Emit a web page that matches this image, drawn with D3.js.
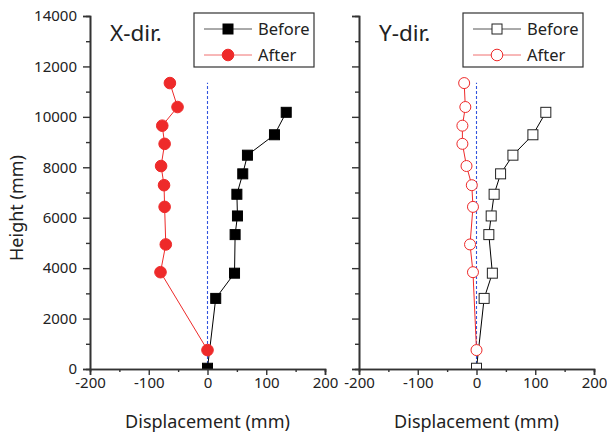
<!DOCTYPE html>
<html>
<head>
<meta charset="utf-8">
<script src="https://cdn.jsdelivr.net/npm/d3@7"></script>
<style>
  body { margin: 0; background: #fff; }
  text { font-family: "Noto Sans", "Open Sans", sans-serif; fill: #222; }
</style>
</head>
<body>
<div id="chart"></div>
<script>
// heights of the measured points (mm)
var heightBefore = [30, 2800, 3800, 5330, 6070, 6930, 7740, 8480, 9290, 10180];
var heightAfter  = [750, 3840, 4940, 6430, 7290, 8050, 8930, 9650, 10390, 11340];

// X-direction displacement (mm)
var xBefore = [0, 14, 46, 47, 51, 50, 60, 68, 114, 134];
var xAfter  = [0, -80, -71, -73, -74, -79, -73, -77, -51, -64];

// Y-direction displacement (mm)
var yBefore = [0, 13, 27, 21, 25, 30, 41, 62, 96, 118];
var yAfter  = [0, -6, -11, -6, -8, -17, -24, -24, -19, -21];

var xTicks = [-200, -100, 0, 100, 200];
var yTicks = [0, 2000, 4000, 6000, 8000, 10000, 12000, 14000];
var refLineTop = 11350;

var W = 607, H = 436;
var svg = d3.select("#chart").append("svg")
    .attr("width", W).attr("height", H);

var plotTop = 16, plotBottom = 369;
var yScale = d3.scaleLinear().domain([0, 14000]).range([plotBottom, plotTop]);
var fmt = function(d) { return String(d); };

function panel(left, right, title, before, after, hollow, showYLabels, id) {
    var xScale = d3.scaleLinear().domain([-200, 200]).range([left, right]);

    svg.append("clipPath").attr("id", "clip" + id)
      .append("rect")
        .attr("x", left).attr("y", plotTop)
        .attr("width", right - left).attr("height", plotBottom - plotTop);

    var g = svg.append("g").attr("clip-path", "url(#clip" + id + ")");

    // zero reference line
    g.append("line")
        .attr("x1", xScale(0)).attr("x2", xScale(0))
        .attr("y1", yScale(0)).attr("y2", yScale(refLineTop))
        .attr("stroke", "#3355dd").attr("stroke-width", 1.1)
        .attr("stroke-dasharray", "3,2");

    var lineBefore = d3.line()
        .x(function(d) { return xScale(d); })
        .y(function(d, i) { return yScale(heightBefore[i]); });
    var lineAfter = d3.line()
        .x(function(d) { return xScale(d); })
        .y(function(d, i) { return yScale(heightAfter[i]); });

    g.append("path").datum(before).attr("d", lineBefore)
        .attr("fill", "none").attr("stroke", "#000").attr("stroke-width", 1);
    g.append("path").datum(after).attr("d", lineAfter)
        .attr("fill", "none").attr("stroke", "#ee2a2a").attr("stroke-width", 1);

    var sq = 10;
    g.selectAll(".sq").data(before).enter().append("rect")
        .attr("x", function(d) { return xScale(d) - sq / 2; })
        .attr("y", function(d, i) { return yScale(heightBefore[i]) - sq / 2; })
        .attr("width", sq).attr("height", sq)
        .attr("fill", hollow ? "#fff" : "#000")
        .attr("stroke", hollow ? "#222" : "#000").attr("stroke-width", 1);

    g.selectAll(".ci").data(after).enter().append("circle")
        .attr("cx", function(d) { return xScale(d); })
        .attr("cy", function(d, i) { return yScale(heightAfter[i]); })
        .attr("r", hollow ? 5.5 : 5.8)
        .attr("fill", hollow ? "#fff" : "#ee2a2a")
        .attr("stroke", "#ee2a2a").attr("stroke-width", 1);

    // axes
    var xAxis = svg.append("g").attr("transform", "translate(0," + plotBottom + ")")
        .call(d3.axisBottom(xScale).tickValues(xTicks).tickSize(6).tickPadding(2)
              .tickFormat(fmt));
    var xMinor = svg.append("g").attr("transform", "translate(0," + plotBottom + ")")
        .call(d3.axisBottom(xScale).tickValues([-150, -50, 50, 150]).tickSize(3).tickFormat(""));

    var yAxis = svg.append("g").attr("transform", "translate(" + left + ",0)")
        .call(d3.axisLeft(yScale).tickValues(yTicks).tickSize(7).tickPadding(6)
              .tickFormat(showYLabels ? fmt : ""));
    var yMinor = svg.append("g").attr("transform", "translate(" + left + ",0)")
        .call(d3.axisLeft(yScale).tickValues([1000, 3000, 5000, 7000, 9000, 11000, 13000])
              .tickSize(4).tickFormat(""));

    [xAxis, xMinor, yAxis, yMinor].forEach(function(a) {
        a.select(".domain").attr("stroke", "#333").attr("stroke-width", 1.6);
        a.selectAll(".tick line").attr("stroke", "#333").attr("stroke-width", 1.4);
        a.selectAll(".tick text").style("font-size", "15px")
            .style("font-family", "'Noto Sans', sans-serif").attr("fill", "#222");
    });

    // panel title
    svg.append("text").attr("x", left + 20).attr("y", 41)
        .style("font-size", "22.5px").text(title);

    // legend
    var lx = right - 131, ly = 13;
    svg.append("rect").attr("x", lx).attr("y", ly).attr("width", 120).attr("height", 54)
        .attr("fill", "#fff").attr("stroke", "#333").attr("stroke-width", 1.2);
    var items = [
        { label: "Before", color: "#555", y: ly + 16, square: true },
        { label: "After", color: "#f07070", y: ly + 42, square: false }
    ];
    items.forEach(function(it) {
        svg.append("line").attr("x1", lx + 10).attr("x2", lx + 58)
            .attr("y1", it.y).attr("y2", it.y)
            .attr("stroke", it.color).attr("stroke-width", 1);
        if (it.square) {
            svg.append("rect").attr("x", lx + 34 - 5).attr("y", it.y - 5)
                .attr("width", 10).attr("height", 10)
                .attr("fill", hollow ? "#fff" : "#000").attr("stroke", hollow ? "#222" : "#000");
        } else {
            svg.append("circle").attr("cx", lx + 34).attr("cy", it.y).attr("r", 5.8)
                .attr("fill", hollow ? "#fff" : "#ee2a2a").attr("stroke", "#ee2a2a");
        }
        svg.append("text").attr("x", lx + 64).attr("y", it.y + 6)
            .style("font-size", "16.5px").text(it.label);
    });

    // x axis label
    svg.append("text").attr("x", (left + right) / 2).attr("y", 428)
        .attr("text-anchor", "middle").style("font-size", "18px")
        .text("Displacement (mm)");
}

panel(90, 325, "X-dir.", xBefore, xAfter, false, true, "a");
panel(359, 594, "Y-dir.", yBefore, yAfter, true, false, "b");

// y axis label
svg.append("text")
    .attr("transform", "translate(23,208) rotate(-90)")
    .attr("text-anchor", "middle").style("font-size", "18px")
    .text("Height (mm)");
</script>
</body>
</html>
